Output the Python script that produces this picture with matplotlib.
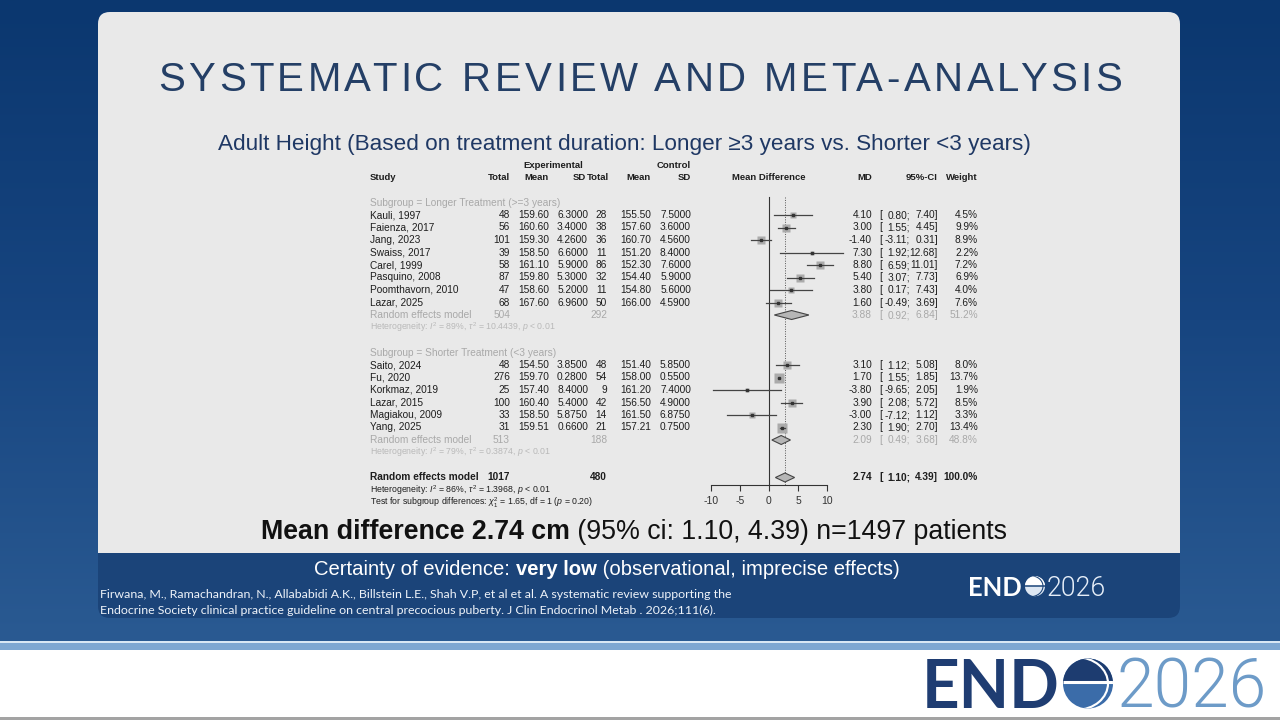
import matplotlib
matplotlib.use("Agg")
import matplotlib.pyplot as plt
import numpy as np
from matplotlib import font_manager
from matplotlib.colors import LinearSegmentedColormap
from matplotlib.patches import Arc, Circle, FancyBboxPatch, Rectangle, Wedge

# ---- data ----
long_names = ["Kauli, 1997", "Faienza, 2017", "Jang, 2023", "Swaiss, 2017",
              "Carel, 1999", "Pasquino, 2008", "Poomthavorn, 2010", "Lazar, 2025"]
long_exp_n = [48, 56, 101, 39, 58, 87, 47, 68]
long_exp_mean = [159.60, 160.60, 159.30, 158.50, 161.10, 159.80, 158.60, 167.60]
long_exp_sd = [6.30, 3.40, 4.26, 6.60, 5.90, 5.30, 5.20, 6.96]
long_ctl_n = [28, 38, 36, 11, 86, 32, 11, 50]
long_ctl_mean = [155.50, 157.60, 160.70, 151.20, 152.30, 154.40, 154.80, 166.00]
long_ctl_sd = [7.50, 3.60, 4.56, 8.40, 7.60, 5.90, 5.60, 4.59]
long_md = [4.10, 3.00, -1.40, 7.30, 8.80, 5.40, 3.80, 1.60]
long_lo = [0.80, 1.55, -3.11, 1.92, 6.59, 3.07, 0.17, -0.49]
long_hi = [7.40, 4.45, 0.31, 12.68, 11.01, 7.73, 7.43, 3.69]
long_w = [4.5, 9.9, 8.9, 2.2, 7.2, 6.9, 4.0, 7.6]

short_names = ["Saito, 2024", "Fu, 2020", "Korkmaz, 2019", "Lazar, 2015",
               "Magiakou, 2009", "Yang, 2025"]
short_exp_n = [48, 276, 25, 100, 33, 31]
short_exp_mean = [154.50, 159.70, 157.40, 160.40, 158.50, 159.51]
short_exp_sd = [3.85, 0.28, 8.40, 5.40, 5.875, 0.66]
short_ctl_n = [48, 54, 9, 42, 14, 21]
short_ctl_mean = [151.40, 158.00, 161.20, 156.50, 161.50, 157.21]
short_ctl_sd = [5.85, 0.55, 7.40, 4.90, 6.875, 0.75]
short_md = [3.10, 1.70, -3.80, 3.90, -3.00, 2.30]
short_lo = [1.12, 1.55, -9.65, 2.08, -7.12, 1.90]
short_hi = [5.08, 1.85, 2.05, 5.72, 1.12, 2.70]
short_w = [8.0, 13.7, 1.9, 8.5, 3.3, 13.4]

# pooled estimates: longer, shorter, overall
pooled_md = [3.88, 2.09, 2.74]
pooled_lo = [0.92, 0.49, 1.10]
pooled_hi = [6.84, 3.68, 4.39]
pooled_w = [51.2, 48.8, 100.0]
pooled_exp_n = [504, 513, 1017]
pooled_ctl_n = [292, 188, 480]
het_text = [
    r"Heterogeneity: $I^2$ = 89%, $\tau^2$ = 10.4439, $p$ < 0.01",
    r"Heterogeneity: $I^2$ = 79%, $\tau^2$ = 0.3874, $p$ < 0.01",
    r"Heterogeneity: $I^2$ = 86%, $\tau^2$ = 1.3968, $p$ < 0.01",
]
subgroup_test = r"Test for subgroup differences: $\chi^2_1$ = 1.65, df = 1 ($p$ = 0.20)"
x_ticks = [-10, -5, 0, 5, 10]

plt.rcParams["font.family"] = ["Liberation Sans", "DejaVu Sans"]
plt.rcParams["mathtext.fontset"] = "custom"
plt.rcParams["mathtext.rm"] = "Liberation Sans"
plt.rcParams["mathtext.it"] = "Liberation Sans:italic"
plt.rcParams["mathtext.bf"] = "Liberation Sans:bold"

W, H = 1280, 720
fig = plt.figure(figsize=(12.8, 7.2), dpi=100, facecolor="white")
bg = fig.add_axes([0, 0, 1, 1])
bg.set_xlim(0, W)
bg.set_ylim(H, 0)
bg.axis("off")
renderer = fig.canvas.get_renderer()


def text_width(s, **kw):
    t = bg.text(0, 0, s, **kw)
    w = t.get_window_extent(renderer).width
    t.remove()
    return w


def light_font():
    # pick a real light (300) face for the thin "2026" of the logo
    for name in ["Roboto", "Lato", "Open Sans", "Inter", "Noto Sans"]:
        for f in font_manager.fontManager.ttflist:
            if f.name == name and f.weight == 300 and f.style == "normal":
                return font_manager.FontProperties(fname=f.fname)
    return font_manager.FontProperties(family="DejaVu Sans", weight="light")


# ---- slide background ----
cmap = LinearSegmentedColormap.from_list("bgblue", ["#0b376f", "#174580", "#2a5a92"])
bg.imshow(np.linspace(0, 1, 256).reshape(-1, 1), extent=(0, W, 641, 0),
          cmap=cmap, aspect="auto", zorder=0)
bg.add_patch(Rectangle((0, 641), W, 2, facecolor="#d9e7f4", edgecolor="none", zorder=1))
bg.add_patch(Rectangle((0, 643), W, 7, facecolor="#7ea7d2", edgecolor="none", zorder=1))
bg.add_patch(Rectangle((0, 717), W, 3, facecolor="#a3a3a3", edgecolor="none", zorder=1))

# card + blue footer band
bg.add_patch(FancyBboxPatch((98, 12), 1082, 606, boxstyle="round,pad=0,rounding_size=12",
                            facecolor="#1b4479", edgecolor="none", zorder=1))
bg.add_patch(FancyBboxPatch((98, 12), 1082, 541, boxstyle="round,pad=0,rounding_size=12",
                            facecolor="#e9e9e9", edgecolor="none", zorder=1))
bg.add_patch(Rectangle((98, 500), 1082, 53, facecolor="#e9e9e9", edgecolor="none", zorder=1))

# ---- title (letter spaced) ----
title = "SYSTEMATIC REVIEW AND META-ANALYSIS"
tkw = dict(fontsize=29, color="#243f66")
gap = (964 - text_width(title, **tkw)) / (len(title) - 1)
x0 = 640 - 964 / 2
for i, ch in enumerate(title):
    if ch == " ":
        continue
    pre = text_width(title[:i + 1], **tkw) - text_width(ch, **tkw)
    bg.text(x0 + pre + i * gap, 91, ch, ha="left", va="baseline", zorder=3, **tkw)

bg.text(624, 150, "Adult Height (Based on treatment duration: Longer \u22653 years vs. Shorter <3 years)",
        ha="center", va="baseline", fontsize=16.2, color="#1f3864", zorder=3)

# ---- forest plot ----
def ry(r):
    return 165 + 12.5 * r


FS = 7.3
HFS = 6.8
DARK = "#1e1e1e"
GREY = "#a9a9a9"
LIGHT = "#b9b9b9"
X_STUDY, X_ET, X_EM, X_ES = 370, 510, 549, 588
X_CT, X_CM, X_CS = 607, 651, 691
X_MD, X_BR, X_LO, X_HI, X_W = 872, 879, 910, 938, 978


def cell(x, r, s, ha="right", color=DARK, size=FS, weight="normal"):
    bg.text(x, ry(r), s, ha=ha, va="center", color=color, fontsize=size,
            fontweight=weight, zorder=3)


# headers
cell(553, 0, "Experimental", ha="center", weight="bold", size=HFS)
cell(X_CS, 0, "Control", weight="bold", size=HFS)
cell(X_STUDY, 1, "Study", ha="left", weight="bold", size=HFS)
for x, lab in [(X_ET, "Total"), (X_EM, "Mean"), (X_ES - 2, "SD"), (X_CT + 2, "Total"),
               (X_CM, "Mean"), (X_CS, "SD"), (X_MD, "MD"), (X_HI, "95%-CI"), (X_W, "Weight")]:
    cell(x, 1, lab, weight="bold", size=HFS)
cell(769, 1, "Mean Difference", ha="center", weight="bold", size=HFS)
cell(X_STUDY, 3, "Subgroup = Longer Treatment (>=3 years)", ha="left", color=GREY)
cell(X_STUDY, 15, "Subgroup = Shorter Treatment (<3 years)", ha="left", color=GREY)

fa = fig.add_axes([710.7 / W, 1 - 515 / H, (827.3 - 710.7) / W, 356.25 / H])
fa.set_xlim(-10, 10)
fa.set_ylim(28, -0.5)
fa.patch.set_alpha(0)
for side in ["top", "left", "right"]:
    fa.spines[side].set_visible(False)
fa.spines["bottom"].set_position(("data", 25.6))
fa.spines["bottom"].set_bounds(-10, 10)
fa.spines["bottom"].set_color("#333333")
fa.spines["bottom"].set_linewidth(0.8)
fa.set_yticks([])
fa.set_xticks(x_ticks)
fa.set_xticklabels([str(t) for t in x_ticks])
fa.tick_params(axis="x", length=4, width=0.8, colors="#333333", labelsize=7.5, pad=4)
fa.plot([0, 0], [2.55, 25.6], color="#333333", lw=0.8)
fa.plot([pooled_md[2]] * 2, [2.55, 25.6], color="#555555", lw=0.7, ls=(0, (1, 1.5)))

groups = [
    (np.arange(4, 12), long_names, long_exp_n, long_exp_mean, long_exp_sd, long_ctl_n,
     long_ctl_mean, long_ctl_sd, long_md, long_lo, long_hi, long_w),
    (np.arange(16, 22), short_names, short_exp_n, short_exp_mean, short_exp_sd, short_ctl_n,
     short_ctl_mean, short_ctl_sd, short_md, short_lo, short_hi, short_w),
]
for rows, names, en, em, es, cn, cm, cs, md, lo, hi, wt in groups:
    for i, r in enumerate(rows):
        fa.plot([lo[i], hi[i]], [r, r], color="#444444", lw=0.9, zorder=3, clip_on=False)
        side_pt = 10.5 * np.sqrt(wt[i] / 13.7) / 1.389
        fa.plot(md[i], r, marker="s", ms=side_pt, mfc="#ababab", mec="none", zorder=2)
        fa.plot(md[i], r, marker="s", ms=1.5, color="#333333", zorder=4)
        cell(X_STUDY, r, names[i], ha="left")
        cell(X_ET, r, f"{en[i]}")
        cell(X_EM, r, f"{em[i]:.2f}")
        cell(X_ES, r, f"{es[i]:.4f}")
        cell(X_CT, r, f"{cn[i]}")
        cell(X_CM, r, f"{cm[i]:.2f}")
        cell(X_CS, r, f"{cs[i]:.4f}")
        cell(X_MD, r, f"{md[i]:.2f}")
        cell(X_BR, r, "[", ha="left")
        cell(X_LO, r, f"{lo[i]:.2f};")
        cell(X_HI, r, f"{hi[i]:.2f}]")
        cell(X_W, r, f"{wt[i]:.1f}%")

pooled_rows = [12, 22, 25]
for k, r in enumerate(pooled_rows):
    overall = k == 2
    col = DARK if overall else GREY
    wgt = "bold" if overall else "normal"
    fa.fill([pooled_lo[k], pooled_md[k], pooled_hi[k], pooled_md[k]],
            [r, r - 0.36, r, r + 0.36], facecolor="#b6b6b6", edgecolor="#444444",
            lw=0.8, zorder=3)
    cell(X_STUDY, r, "Random effects model", ha="left", color=col, weight=wgt)
    cell(X_ET, r, f"{pooled_exp_n[k]}", color=col, weight=wgt)
    cell(X_CT, r, f"{pooled_ctl_n[k]}", color=col, weight=wgt)
    cell(X_MD, r, f"{pooled_md[k]:.2f}", color=col, weight=wgt)
    cell(X_BR, r, "[", ha="left", color=col, weight=wgt)
    cell(X_LO, r, f"{pooled_lo[k]:.2f};", color=col, weight=wgt)
    cell(X_HI, r, f"{pooled_hi[k]:.2f}]", color=col, weight=wgt)
    cell(X_W, r, f"{pooled_w[k]:.1f}%", color=col, weight=wgt)
    cell(X_STUDY, r + 1, het_text[k], ha="left", color=DARK if overall else LIGHT, size=6.3)
cell(X_STUDY, 27, subgroup_test, ha="left", size=6.3)

# ---- summary lines ----
mkw_b = dict(fontsize=19.3, fontweight="bold", color="#111111")
mkw_n = dict(fontsize=19.3, color="#111111")
p1, p2 = "Mean difference 2.74 cm", " (95% ci: 1.10, 4.39) n=1497 patients"
w1, w2 = text_width(p1, **mkw_b), text_width(p2, **mkw_n)
xs = 634 - (w1 + w2) / 2
bg.text(xs, 539, p1, ha="left", va="baseline", zorder=3, **mkw_b)
bg.text(xs + w1, 539, p2, ha="left", va="baseline", zorder=3, **mkw_n)

ckw_n = dict(fontsize=14.6, color="white")
ckw_b = dict(fontsize=14.6, color="white", fontweight="bold")
parts = [("Certainty of evidence: ", ckw_n), ("very low", ckw_b),
         (" (observational, imprecise effects)", ckw_n)]
widths = [text_width(s.rstrip(), **kw) + (text_width("a a", **kw) - text_width("aa", **kw)) * (s.endswith(" "))
          for s, kw in parts]
xc = 607 - sum(widths) / 2
for (s, kw), w in zip(parts, widths):
    bg.text(xc, 575, s, ha="left", va="baseline", zorder=3, **kw)
    xc += w

cite_kw = dict(fontsize=8.9, color="#eef3f9", family=["Lato", "DejaVu Sans"])
bg.text(100, 598, "Firwana, M., Ramachandran, N., Allababidi A.K., Billstein L.E., Shah V.P, "
        "et al et al. A systematic review supporting the", ha="left", va="baseline", zorder=3, **cite_kw)
bg.text(100, 614, "Endocrine Society clinical practice guideline on central precocious puberty. "
        "J Clin Endocrinol Metab . 2026;111(6).", ha="left", va="baseline", zorder=3, **cite_kw)


# ---- ENDO 2026 logos ----
def globe(cx, cy, r, top, bottom, line, lw):
    base = Circle((cx, cy), r, facecolor=bottom, edgecolor="none", zorder=5)
    bg.add_patch(base)
    bg.add_patch(Wedge((cx, cy), r, 180, 360, facecolor=top, edgecolor="none", zorder=5))
    bg.plot([cx - r, cx + r], [cy - 0.05 * r, cy - 0.05 * r], color=line, lw=lw, zorder=6,
            solid_capstyle="butt", clip_path=base)
    arc = Arc((cx - 0.45 * r, cy), 2.5 * r, 2.1 * r, theta1=-90, theta2=90, color=line,
              lw=lw * 0.7, zorder=6)
    bg.add_patch(arc)
    arc.set_clip_path(base)


thin = light_font()


def logo(x_end, end_w, x_num, num_w, base, r, end_col, num_col, top, bottom, line, lw):
    ekw = dict(fontweight="bold", family=["Lato", "DejaVu Sans"])
    es = 48 * end_w / text_width("END", fontsize=48, **ekw)
    p = thin.copy()
    p.set_size(48)
    ns = 48 * num_w / text_width("2026", fontproperties=p)
    p.set_size(ns)
    bg.text(x_end, base, "END", ha="left", va="baseline", fontsize=es, color=end_col,
            zorder=5, **ekw)
    globe(x_end + end_w + 3 + r, base - r * 0.98, r, top, bottom, line, lw)
    bg.text(x_num, base, "2026", ha="left", va="baseline", fontproperties=p, color=num_col,
            zorder=5)


logo(922, 138, 1117, 150, 708, 25, "#1f3d72", "#6d9bc8", "#1d3c70", "#3b6ca9", "white", 2.2)
logo(968, 54, 1047, 59, 596, 10, "white", "#e6eef8", "white", "#dde7f3", "#1b4479", 1.1)

fig.savefig("out.png", dpi=100, facecolor=fig.get_facecolor())
